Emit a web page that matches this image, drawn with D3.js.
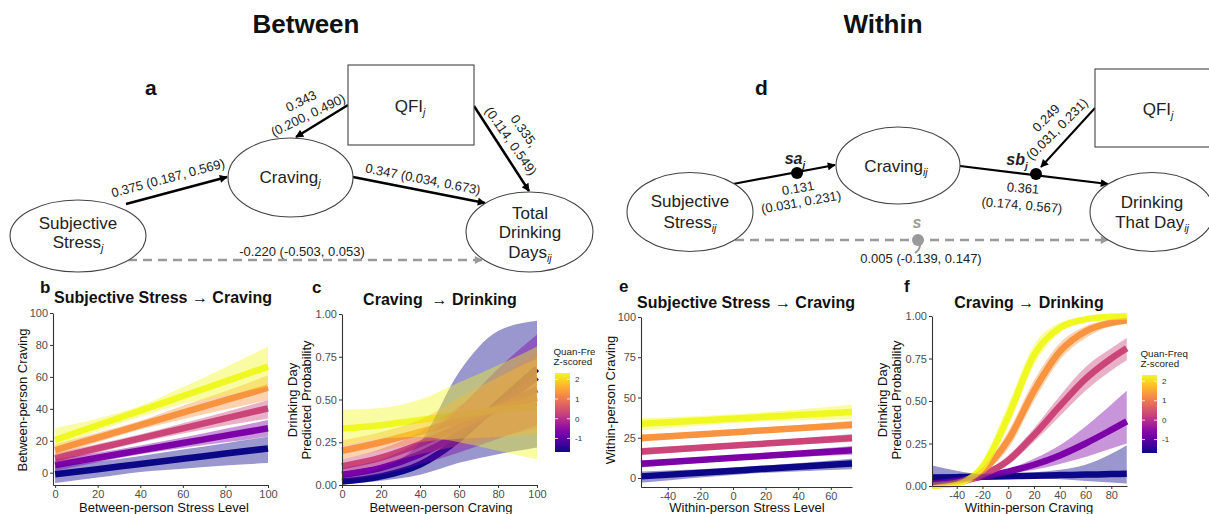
<!DOCTYPE html>
<html>
<head>
<meta charset="utf-8">
<script src="https://cdn.jsdelivr.net/npm/d3@7"></script>
<style>
  body { margin: 0; background: #fff; }
  svg { display: block; font-family: "Liberation Sans", Arial, sans-serif; }
</style>
</head>
<body>
<svg id="fig" width="1209" height="514"></svg>
<script>
// ---- data ----
// QFI (quantity-frequency index, z-scored) levels of the five plotted lines
const qfiLevels = [-1.69, -0.69, 0.31, 1.31, 2.32];
const qfiRange = [-1.69, 2.32];
const legendTicks = [-1, 0, 1, 2];

// panel b: between-person stress -> craving
const bX = [0, 20, 40, 60, 80, 100];
const bFit = [
  [-1, 2.2, 5.5, 8.7, 12, 15.2],
  [4.8, 9.4, 14, 18.6, 23.2, 27.8],
  [9, 15.3, 21.5, 27.8, 34, 40.3],
  [14.2, 22, 29.8, 37.6, 45.4, 53.2],
  [20.5, 29.7, 38.8, 48, 57.2, 66.4]
];
const bLow = [
  [-6.5, -3, 0.5, 2.5, 4.5, 6],
  [1, 6.5, 11.5, 15.5, 19, 22.7],
  [6, 12.5, 19, 24.5, 29.5, 34],
  [10.5, 19, 27, 33.5, 39.5, 45.5],
  [16, 26, 35, 43, 48.5, 54]
];
const bHigh = [
  [4, 7, 10.5, 14.5, 18.5, 22.5],
  [8.5, 12.5, 17, 22, 27.5, 33],
  [12, 18, 24, 31, 38, 45.5],
  [18, 25, 32.5, 42, 51, 61],
  [28, 34, 42, 53.5, 66, 79]
];

// panel c: between-person craving -> drinking probability
const cX = [0, 20, 40, 60, 80, 100];
const cFit = [
  [0.02, 0.05, 0.12, 0.27, 0.48, 0.68],
  [0.06, 0.10, 0.18, 0.30, 0.46, 0.63],
  [0.11, 0.16, 0.24, 0.34, 0.45, 0.56],
  [0.20, 0.25, 0.31, 0.38, 0.45, 0.51],
  [0.33, 0.35, 0.38, 0.41, 0.44, 0.46]
];
const cLow = [
  [0.005, 0.025, 0.06, 0.13, 0.18, 0.22],
  [0.03, 0.06, 0.12, 0.19, 0.27, 0.35],
  [0.08, 0.12, 0.18, 0.23, 0.28, 0.33],
  [0.15, 0.20, 0.25, 0.27, 0.28, 0.30],
  [0.23, 0.27, 0.28, 0.25, 0.20, 0.15]
];
const cHigh = [
  [0.05, 0.10, 0.25, 0.66, 0.90, 0.96],
  [0.10, 0.15, 0.26, 0.45, 0.68, 0.88],
  [0.15, 0.21, 0.31, 0.46, 0.62, 0.78],
  [0.26, 0.31, 0.38, 0.51, 0.63, 0.74],
  [0.44, 0.45, 0.50, 0.60, 0.70, 0.81]
];

// panel e: within-person stress -> craving
const eX = [-56.4, 8, 73];
const eFit = [
  [1, 5, 9],
  [8.9, 13, 17.2],
  [16.4, 20.6, 24.8],
  [24.8, 28.9, 33],
  [33.7, 37.3, 41]
];
const eLow = [
  [-3, 2.5, 5.5],
  [6.5, 11.5, 14.5],
  [14.2, 19, 22.3],
  [22.5, 27.3, 30.5],
  [29.5, 34.5, 36.5]
];
const eHigh = [
  [4, 7, 12],
  [11, 14.5, 19.8],
  [18.6, 22.2, 27.3],
  [27, 30.5, 35.5],
  [37, 40, 45.5]
];

// panel f: within-person craving -> drinking probability
const fX = [-59, -40, -20, 0, 20, 40, 60, 80, 92];
const fFit = [
  [0.05, 0.052, 0.055, 0.058, 0.061, 0.064, 0.067, 0.07, 0.072],
  [0.015, 0.03, 0.055, 0.085, 0.125, 0.18, 0.25, 0.33, 0.38],
  [0.005, 0.02, 0.065, 0.15, 0.30, 0.47, 0.63, 0.75, 0.81],
  [0.003, 0.018, 0.09, 0.27, 0.56, 0.79, 0.91, 0.96, 0.975],
  [0.002, 0.015, 0.11, 0.41, 0.77, 0.93, 0.98, 0.995, 0.999]
];
const fLow = [
  [0.005, 0.025, 0.04, 0.048, 0.046, 0.04, 0.03, 0.02, 0.015],
  [0.005, 0.02, 0.045, 0.07, 0.095, 0.13, 0.17, 0.22, 0.25],
  [0.002, 0.012, 0.05, 0.125, 0.26, 0.41, 0.56, 0.68, 0.74],
  [0.001, 0.011, 0.07, 0.22, 0.50, 0.74, 0.87, 0.94, 0.955],
  [0.001, 0.008, 0.08, 0.35, 0.71, 0.90, 0.97, 0.99, 0.995]
];
const fHigh = [
  [0.12, 0.09, 0.07, 0.072, 0.08, 0.095, 0.125, 0.19, 0.24],
  [0.03, 0.045, 0.068, 0.10, 0.16, 0.24, 0.35, 0.48, 0.56],
  [0.01, 0.03, 0.08, 0.18, 0.34, 0.53, 0.70, 0.81, 0.87],
  [0.006, 0.03, 0.11, 0.32, 0.62, 0.84, 0.94, 0.98, 0.99],
  [0.004, 0.025, 0.15, 0.48, 0.83, 0.96, 0.995, 1.0, 1.0]
];

// tick labels
const ticks0to100 = [0, 20, 40, 60, 80, 100];
const ticksProb = [0, 0.25, 0.5, 0.75, 1];
const ticksCraving = [0, 25, 50, 75, 100];
const ticksWithinStress = [-40, -20, 0, 20, 40, 60];
const ticksWithinCraving = [-40, -20, 0, 20, 40, 60, 80];

// path coefficients
const betweenLabels = {
  stressCraving: "0.375 (0.187, 0.569)",
  qfiCraving: ["0.343", "(0.200, 0.490)"],
  qfiDays: ["0.335,", "(0.114, 0.549)"],
  cravingDays: "0.347 (0.034, 0.673)",
  direct: "-0.220 (-0.503, 0.053)"
};
const withinLabels = {
  a: ["0.131", "(0.031, 0.231)"],
  b: ["0.361", "(0.174, 0.567)"],
  qfi: ["0.249", "(0.031, 0.231)"],
  direct: "0.005 (-0.139, 0.147)"
};

// ---- drawing ----
const svg = d3.select("#fig");
const defs = svg.append("defs");
const color = d3.scaleSequential(d3.interpolatePlasma).domain(qfiRange);

function marker(id, fill, w, h) {
  defs.append("marker")
    .attr("id", id)
    .attr("viewBox", "0 0 10 10")
    .attr("refX", 9).attr("refY", 5)
    .attr("markerWidth", w).attr("markerHeight", h)
    .attr("markerUnits", "userSpaceOnUse")
    .attr("orient", "auto")
    .append("path").attr("d", "M0,0L10,5L0,10z").attr("fill", fill);
}
marker("ahBlack", "#000", 10, 8);
marker("ahGray", "#9a9a9a", 10, 8);

const grad = defs.append("linearGradient").attr("id", "plasmaBar")
  .attr("x1", 0).attr("y1", 1).attr("x2", 0).attr("y2", 0);
d3.range(0, 1.0001, 0.1).forEach(t => {
  grad.append("stop").attr("offset", t).attr("stop-color", d3.interpolatePlasma(t));
});

defs.append("clipPath").attr("id", "clipC")
  .append("rect").attr("x", 0).attr("y", 0).attr("width", 595).attr("height", 514);

// -- diagram helpers --
function ellipse(cx, cy, rx, ry) {
  svg.append("ellipse").attr("cx", cx).attr("cy", cy).attr("rx", rx).attr("ry", ry)
    .attr("fill", "#fff").attr("stroke", "#444").attr("stroke-width", 1.1);
}
function nodeText(x, y, main, sub, size = 17) {
  const t = svg.append("text").attr("x", x).attr("y", y)
    .attr("text-anchor", "middle").attr("font-size", size).attr("fill", "#222");
  t.append("tspan").text(main);
  if (sub) {
    t.append("tspan").attr("dy", 4).attr("font-size", size * 0.62)
      .attr("font-style", "italic").text(sub);
  }
  return t;
}
function rotText(x, y, angle, str, size = 13, fill = "#222") {
  svg.append("text")
    .attr("transform", `translate(${x},${y}) rotate(${angle})`)
    .attr("text-anchor", "middle").attr("dy", "0.35em")
    .attr("font-size", size).attr("fill", fill)
    .text(str);
}
function arrow(x1, y1, x2, y2, w = 2.5, dashed = false) {
  svg.append("line").attr("x1", x1).attr("y1", y1).attr("x2", x2).attr("y2", y2)
    .attr("stroke", dashed ? "#9a9a9a" : "#000")
    .attr("stroke-width", w)
    .attr("stroke-dasharray", dashed ? "9,6" : null)
    .attr("marker-end", dashed ? "url(#ahGray)" : "url(#ahBlack)");
}

// section titles
svg.append("text").attr("x", 306).attr("y", 33).attr("text-anchor", "middle")
  .attr("font-size", 26).attr("font-weight", "bold").attr("fill", "#111").text("Between");
svg.append("text").attr("x", 883).attr("y", 33).attr("text-anchor", "middle")
  .attr("font-size", 26).attr("font-weight", "bold").attr("fill", "#111").text("Within");

function panelLetter(x, y, s, size = 17) {
  svg.append("text").attr("x", x).attr("y", y).attr("font-size", size)
    .attr("font-weight", "bold").attr("fill", "#111").text(s);
}
panelLetter(145, 95, "a", 21);
panelLetter(755, 95, "d", 21);
panelLetter(40, 293, "b");
panelLetter(312, 293, "c");
panelLetter(619, 292, "e");
panelLetter(904, 292, "f");

// ---- diagram a (between) ----
arrow(126, 204, 227, 177);
arrow(348, 105, 296, 137);
arrow(474, 106, 529, 191);
arrow(353, 177, 485, 203);
arrow(128, 260, 482, 260, 2.5, true);

svg.append("rect").attr("x", 348).attr("y", 65).attr("width", 126).attr("height", 80)
  .attr("fill", "#fff").attr("stroke", "#444").attr("stroke-width", 1.1);
ellipse(78, 236, 68, 36);
ellipse(290.5, 177.5, 62.5, 39.5);
ellipse(529.5, 232, 63.5, 40);

nodeText(410, 112, "QFI", "j");
nodeText(78, 229, "Subjective");
nodeText(78, 248, "Stress", "j");
nodeText(290, 183, "Craving", "j");
nodeText(530, 219, "Total");
nodeText(530, 238, "Drinking");
nodeText(530, 258, "Days", "ij");

rotText(168, 178, -15, betweenLabels.stressCraving);
rotText(301, 101, -26, betweenLabels.qfiCraving[0]);
rotText(308, 115, -26, betweenLabels.qfiCraving[1]);
rotText(524, 131, 55, betweenLabels.qfiDays[0]);
rotText(511, 141, 55, betweenLabels.qfiDays[1]);
rotText(423, 179, 11, betweenLabels.cravingDays);
rotText(302, 251, 0, betweenLabels.direct);

// ---- diagram d (within) ----
arrow(733, 184, 835, 165, 2.2);
arrow(960, 166, 1108, 184, 2.2);
arrow(1095, 108, 1041, 167, 2);
arrow(735, 240, 1108, 240, 2.5, true);

svg.append("rect").attr("x", 1095).attr("y", 69).attr("width", 125).attr("height", 78)
  .attr("fill", "#fff").attr("stroke", "#444").attr("stroke-width", 1.1);
ellipse(690, 212, 63, 39.5);
ellipse(898, 165.5, 62, 38.5);
ellipse(1152, 212, 62, 39.5);

nodeText(1158, 115, "QFI", "j");
nodeText(690, 207, "Subjective");
nodeText(690, 228, "Stress", "ij");
nodeText(896, 172, "Craving", "ij");
nodeText(1152, 208, "Drinking");
nodeText(1152, 228, "That Day", "ij");

svg.append("circle").attr("cx", 797).attr("cy", 173).attr("r", 6).attr("fill", "#000");
svg.append("circle").attr("cx", 1036).attr("cy", 174).attr("r", 6).attr("fill", "#000");
svg.append("circle").attr("cx", 918).attr("cy", 240).attr("r", 6).attr("fill", "#9a9a9a");
svg.append("path").attr("d", "M920,244 Q920,250 915,253").attr("fill", "none")
  .attr("stroke", "#9a9a9a").attr("stroke-width", 2);

nodeText(795, 164, "sa", "j", 16).attr("font-weight", "bold").attr("font-style", "italic");
nodeText(1017, 165, "sb", "j", 16).attr("font-weight", "bold").attr("font-style", "italic");
svg.append("text").attr("x", 917).attr("y", 228).attr("text-anchor", "middle")
  .attr("font-size", 16).attr("font-weight", "bold").attr("font-style", "italic")
  .attr("fill", "#9a9a9a").text("s");

rotText(798, 188, -10, withinLabels.a[0]);
rotText(801, 202, -10, withinLabels.a[1]);
rotText(1023, 188, 5, withinLabels.b[0]);
rotText(1022, 205, 5, withinLabels.b[1]);
rotText(1046, 118, -45, withinLabels.qfi[0]);
rotText(1057, 129, -45, withinLabels.qfi[1]);
svg.append("text").attr("x", 921).attr("y", 263).attr("text-anchor", "middle")
  .attr("font-size", 13).attr("fill", "#222").text(withinLabels.direct);

// ---- effect panels ----
function panel(cfg) {
  const g = svg.append("g");
  const x = d3.scaleLinear().domain(cfg.xDomain).range(cfg.xRange);
  const y = d3.scaleLinear().domain(cfg.yDomain).range(cfg.yRange);

  const line = d3.line()
    .x((d, i) => x(cfg.xs[i])).y(d => y(d))
    .curve(d3.curveMonotoneX);
  const area = d3.area()
    .x((d, i) => x(cfg.xs[i])).y0(d => y(d[0])).y1(d => y(d[1]))
    .curve(d3.curveMonotoneX);

  // lines first, ribbons over them
  cfg.fit.forEach((s, k) => {
    g.append("path").attr("d", line(s)).attr("fill", "none")
      .attr("stroke", color(qfiLevels[k])).attr("stroke-width", 6.5);
  });
  cfg.low.forEach((s, k) => {
    const band = s.map((v, i) => [v, cfg.high[k][i]]);
    g.append("path").attr("d", area(band))
      .attr("fill", color(qfiLevels[k])).attr("fill-opacity", 0.42);
  });

  const ax = g.append("g").attr("transform", `translate(0,${cfg.yRange[0]})`)
    .call(d3.axisBottom(x).tickValues(cfg.xTicks).tickSize(3).tickSizeOuter(0).tickPadding(2)
      .tickFormat(d => String(d)));
  const ay = g.append("g").attr("transform", `translate(${cfg.xRange[0]},0)`)
    .call(d3.axisLeft(y).tickValues(cfg.yTicks).tickSize(3).tickSizeOuter(0).tickPadding(2)
      .tickFormat(cfg.yFormat || (d => String(d))));
  [ax, ay].forEach(a => {
    a.attr("font-family", null).attr("font-size", 11);
    a.select(".domain").attr("stroke", "#333").attr("stroke-width", 1.1);
    a.selectAll(".tick line").attr("stroke", "#333");
    a.selectAll(".tick text").attr("fill", "#4d4d4d");
  });

  g.append("text").attr("x", cfg.titleX).attr("y", cfg.titleY).attr("text-anchor", "middle")
    .attr("font-size", 16).attr("font-weight", "bold").attr("fill", "#111")
    .style("white-space", "pre").text(cfg.title);
  g.append("text").attr("x", cfg.xLabelX).attr("y", 512).attr("text-anchor", "middle")
    .attr("font-size", 13).attr("fill", "#111").text(cfg.xLabel);
  cfg.yLabel.forEach((s, i) => {
    g.append("text")
      .attr("transform", `translate(${cfg.yLabelX[i]},400) rotate(-90)`)
      .attr("text-anchor", "middle").attr("dy", "0.35em")
      .attr("font-size", 13).attr("fill", "#111").text(s);
  });
}

function legend(x, yTop, yBottom, clip) {
  const g = svg.append("g");
  if (clip) g.attr("clip-path", "url(#clipC)");
  const s = d3.scaleLinear().domain(qfiRange).range([yBottom, yTop]);
  g.append("text").attr("x", x - 1.5).attr("y", yTop - 18).attr("font-size", 9.8)
    .attr("fill", "#222").text("Quan-Freq");
  g.append("text").attr("x", x - 1.5).attr("y", yTop - 8).attr("font-size", 9.8)
    .attr("fill", "#222").text("Z-scored");
  g.append("rect").attr("x", x).attr("y", yTop).attr("width", 15).attr("height", yBottom - yTop)
    .attr("fill", "url(#plasmaBar)");
  legendTicks.forEach(v => {
    g.append("line").attr("x1", x).attr("x2", x + 3).attr("y1", s(v)).attr("y2", s(v))
      .attr("stroke", "#fff").attr("stroke-width", 0.8);
    g.append("line").attr("x1", x + 12).attr("x2", x + 15).attr("y1", s(v)).attr("y2", s(v))
      .attr("stroke", "#fff").attr("stroke-width", 0.8);
    g.append("text").attr("x", x + 20).attr("y", s(v)).attr("dy", "0.35em")
      .attr("font-size", 8).attr("fill", "#333").text(String(v));
  });
}

panel({
  xs: bX, fit: bFit, low: bLow, high: bHigh,
  xDomain: [-1, 100], xRange: [53, 268],
  yDomain: [-7.7, 100], yRange: [485, 313],
  xTicks: ticks0to100, yTicks: ticks0to100,
  title: "Subjective Stress \u2192 Craving", titleX: 163, titleY: 303,
  xLabel: "Between-person Stress Level", xLabelX: 164,
  yLabel: ["Between-person Craving"], yLabelX: [22]
});

panel({
  xs: cX, fit: cFit, low: cLow, high: cHigh,
  xDomain: [0, 100], xRange: [342, 537],
  yDomain: [0, 1], yRange: [485, 314],
  xTicks: ticks0to100, yTicks: ticksProb, yFormat: d3.format(".2f"),
  title: "Craving  \u2192 Drinking", titleX: 440, titleY: 305,
  xLabel: "Between-person Craving", xLabelX: 441,
  yLabel: ["Drinking Day", "Predicted Probability"], yLabelX: [292, 306]
});
legend(555, 373, 452, true);

panel({
  xs: eX, fit: eFit, low: eLow, high: eHigh,
  xDomain: [-56.4, 73], xRange: [641, 852],
  yDomain: [-5.6, 100], yRange: [487, 317],
  xTicks: ticksWithinStress, yTicks: ticksCraving,
  title: "Subjective Stress \u2192 Craving", titleX: 746, titleY: 308,
  xLabel: "Within-person Stress Level", xLabelX: 747,
  yLabel: ["Within-person Craving"], yLabelX: [610]
});

panel({
  xs: fX, fit: fFit, low: fLow, high: fHigh,
  xDomain: [-59.2, 92.2], xRange: [932, 1127],
  yDomain: [0, 1], yRange: [486, 316],
  xTicks: ticksWithinCraving, yTicks: ticksProb, yFormat: d3.format(".2f"),
  title: "Craving \u2192 Drinking", titleX: 1029, titleY: 308,
  xLabel: "Within-person Craving", xLabelX: 1029,
  yLabel: ["Drinking Day", "Predicted Probability"], yLabelX: [882, 896]
});
legend(1142, 375, 453, false);
</script>
</body>
</html>
